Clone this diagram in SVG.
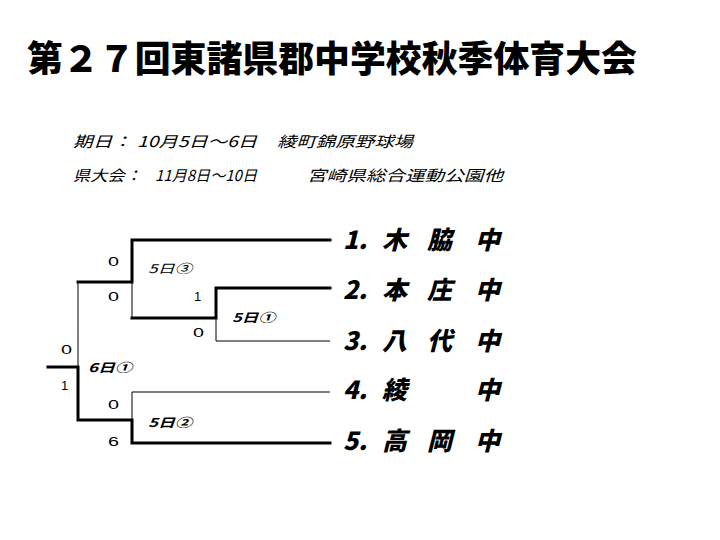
<svg xmlns="http://www.w3.org/2000/svg" width="720" height="540" viewBox="0 0 720 540">
<style>
.title{font-family:"Noto Sans CJK JP","Noto Sans",sans-serif;font-weight:900;font-size:36px;fill:#000}
.info{font-family:"Noto Sans CJK JP","Noto Sans",sans-serif;font-style:italic;font-size:15px;fill:#000}
.team{font-family:"Noto Sans CJK JP","Noto Sans",sans-serif;font-style:italic;font-weight:900;font-size:25px;fill:#000}
.score{font-family:"Liberation Sans","Noto Sans",sans-serif;font-size:13px;fill:#000}
.day{font-family:"Noto Sans CJK JP","Noto Sans",sans-serif;font-style:italic;font-size:12px;fill:#000}
.dayb{font-family:"Noto Sans CJK JP","Noto Sans",sans-serif;font-style:italic;font-weight:700;font-size:12px;fill:#000}
.thick{stroke:#000;stroke-width:3;fill:none;stroke-linecap:square}
.thin{stroke:#000;stroke-width:1;fill:none}
</style>
<rect width="720" height="540" fill="#fff"/>
<g id="title">
<text class="title" x="27" y="72" textLength="610" lengthAdjust="spacingAndGlyphs">第２７回東諸県郡中学校秋季体育大会</text>
</g>
<g id="info">
<text class="info" x="73" y="147" textLength="59" lengthAdjust="spacingAndGlyphs">期日：</text>
<text class="info" x="137" y="147" textLength="120" lengthAdjust="spacingAndGlyphs">10月5日～6日</text>
<text class="info" x="277" y="147" textLength="136" lengthAdjust="spacingAndGlyphs">綾町錦原野球場</text>
<text class="info" x="73" y="181" textLength="69" lengthAdjust="spacingAndGlyphs">県大会：</text>
<text class="info" x="155" y="181" textLength="102" lengthAdjust="spacingAndGlyphs">11月8日～10日</text>
<text class="info" x="307" y="181" textLength="196" lengthAdjust="spacingAndGlyphs">宮崎県総合運動公園他</text>
</g>
<g id="connectors">
<path class="thick" d="M330,240 H132 V282 H78"/>
<path class="thin" d="M132,282 V318"/>
<path class="thick" d="M132,318 H216 V288 H330"/>
<path class="thin" d="M216,318 V341 H330"/>
<path class="thin" d="M78,282 V367"/>
<path class="thick" d="M48,367 H78 V420 H132 V443 H330"/>
<path class="thin" d="M132,420 V392 H330"/>
</g>
<g id="scores">
<text class="score" x="108" y="266" textLength="11" lengthAdjust="spacingAndGlyphs">0</text>
<text class="score" x="108" y="301" textLength="11" lengthAdjust="spacingAndGlyphs">0</text>
<text class="score" x="194" y="301">1</text>
<text class="score" x="193" y="337" textLength="11" lengthAdjust="spacingAndGlyphs">0</text>
<text class="score" x="61" y="354" textLength="11" lengthAdjust="spacingAndGlyphs">0</text>
<text class="score" x="61" y="390">1</text>
<text class="score" x="108" y="409" textLength="11" lengthAdjust="spacingAndGlyphs">0</text>
<text class="score" x="108" y="446" textLength="11" lengthAdjust="spacingAndGlyphs">6</text>
</g>
<g id="days">
<text class="day" x="148" y="273" textLength="44" lengthAdjust="spacingAndGlyphs">5日③</text>
<text class="dayb" x="232" y="322" textLength="43" lengthAdjust="spacingAndGlyphs">5日①</text>
<text class="dayb" x="88" y="372" textLength="44" lengthAdjust="spacingAndGlyphs">6日①</text>
<text class="dayb" x="148" y="427" textLength="44" lengthAdjust="spacingAndGlyphs">5日②</text>
</g>
<g id="team1"><text class="team" y="249"><tspan x="343">1.</tspan><tspan x="382">木</tspan><tspan x="427">脇</tspan><tspan x="475">中</tspan></text></g>
<g id="team2"><text class="team" y="299"><tspan x="343">2.</tspan><tspan x="382">本</tspan><tspan x="427">庄</tspan><tspan x="475">中</tspan></text></g>
<g id="team3"><text class="team" y="350"><tspan x="343">3.</tspan><tspan x="382">八</tspan><tspan x="427">代</tspan><tspan x="475">中</tspan></text></g>
<g id="team4"><text class="team" y="399"><tspan x="343">4.</tspan><tspan x="382">綾</tspan><tspan x="475">中</tspan></text></g>
<g id="team5"><text class="team" y="450"><tspan x="343">5.</tspan><tspan x="382">高</tspan><tspan x="427">岡</tspan><tspan x="475">中</tspan></text></g>
</svg>
